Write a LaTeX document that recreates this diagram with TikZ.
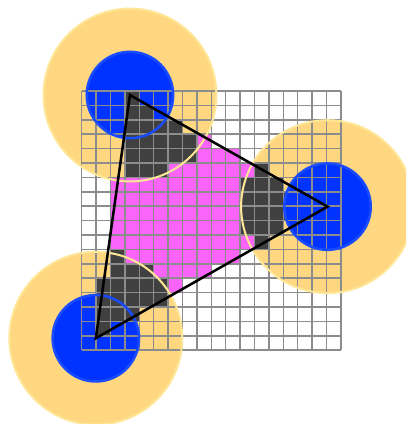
\documentclass[tikz,border=0pt]{standalone}
\definecolor{haloY}{RGB}{255,215,128}
\definecolor{haloEdge}{RGB}{255,230,150}
\definecolor{coreB}{RGB}{0,51,255}
\definecolor{coreEdge}{RGB}{25,75,255}
\definecolor{cellIn}{RGB}{250,100,250}
\definecolor{cellNear}{RGB}{64,64,64}
\definecolor{gridG}{RGB}{140,140,140}
\begin{document}
\begin{tikzpicture}[
  x=0.5cm, y=-0.5cm,
  halo/.style={fill=haloY},
  haloline/.style={draw=haloEdge, line width=2pt},
  core/.style={fill=coreB},
  coreline/.style={draw=coreEdge, line width=2.5pt},
  incell/.style={fill=cellIn},
  nearcell/.style={fill=cellNear},
  gridline/.style={draw=gridG, line width=1.4pt},
  tri/.style={draw=black, line width=2.5pt},
]

%% ── Frame ────────────────────────────────────────────────────────────────────
\useasboundingbox (-5.674,-6.319) rectangle (22.521,23.125);
\clip (-5.674,-6.319) rectangle (22.521,23.125);

%% Triangle corners
\coordinate (v1) at (3.35,0.28);
\coordinate (v2) at (17.07,8.03);
\coordinate (v3) at (0.98,17.17);

%% ── Halos round the corners ──────────────────────────────────────────────────
\foreach \v in {v1,v2,v3}
  \fill[halo] (\v) circle[radius=6];
\foreach \v in {v1,v3}
  \fill[core] (\v) circle[radius=3];

%% ── Covered cells ────────────────────────────────────────────────────────────
%% row/first/last
\foreach \r/\a/\b in {3/8/8, 4/8/10, 5/6/11, 6/2/10, 7/2/10, 8/2/10,
                      9/2/10, 10/2/11, 11/3/10, 12/5/8, 13/6/6}
  \foreach \c in {\a,...,\b}
    \fill[incell] (\c,\r) rectangle ++(1,1);

%% cells near a corner
\foreach \r/\a/\b in {0/3/3, 1/3/4, 2/3/6, 3/3/7, 4/3/7, 5/3/5, 5/12/12,
                      6/11/13, 7/11/15, 8/11/15, 9/11/13, 10/12/12,
                      11/2/2, 12/2/4, 13/1/5, 14/1/5, 15/1/3, 16/1/1}
  \foreach \c in {\a,...,\b}
    \fill[nearcell] (\c,\r) rectangle ++(1,1);

\fill[core] (v2) circle[radius=3];

%% ── Grid ─────────────────────────────────────────────────────────────────────
\foreach \i in {0,...,18} {
  \draw[gridline] (\i,0) -- (\i,18);
  \draw[gridline] (0,\i) -- (18,\i);
}

%% ── Circle edges ─────────────────────────────────────────────────────────────
\foreach \v in {v1,v2,v3} {
  \draw[haloline] (\v) circle[radius=6];
  \draw[coreline] (\v) circle[radius=3];
}

%% ── Triangle ─────────────────────────────────────────────────────────────────
\draw[tri] (v1) -- (v2) -- (v3) -- cycle;

\end{tikzpicture}
\end{document}
